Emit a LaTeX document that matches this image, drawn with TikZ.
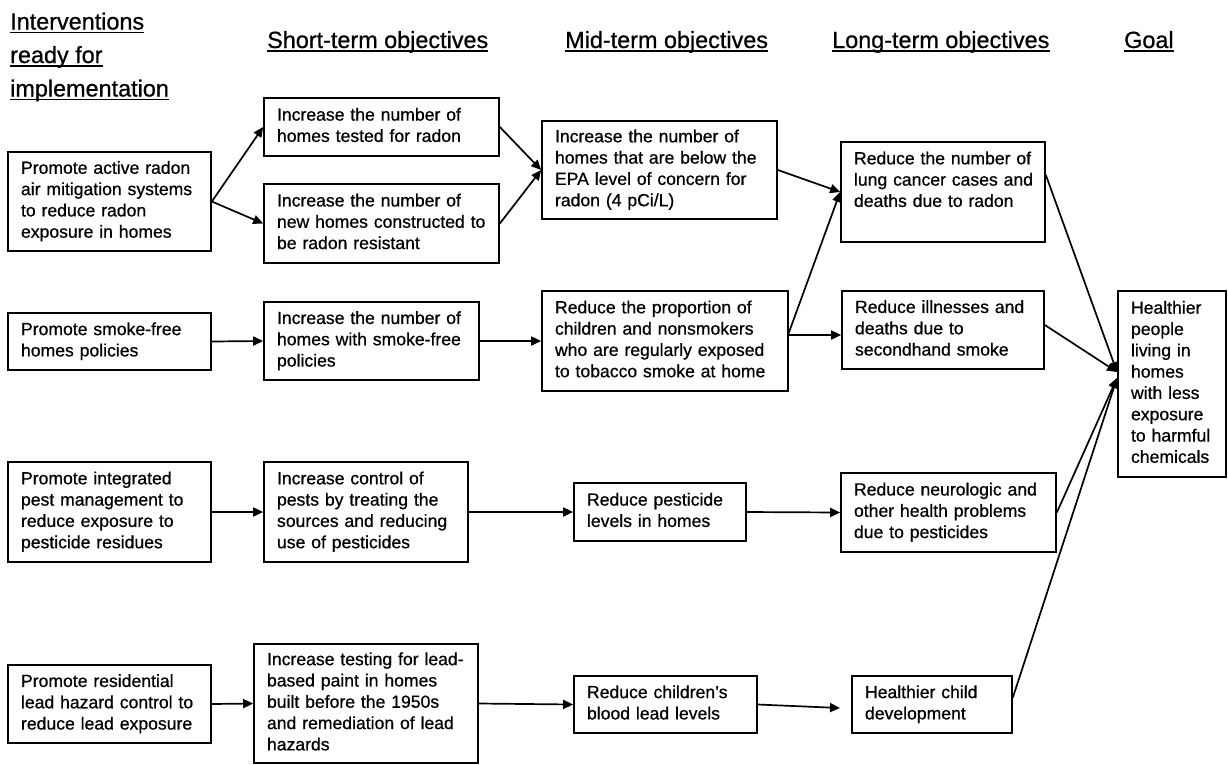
\documentclass[tikz,border=0pt]{standalone}
\usepackage{fontspec}
\setmainfont{Liberation Sans}[FakeBold=0.7]
\usetikzlibrary{arrows.meta,calc}
\newcommand{\mybxfont}{\fontsize{17.6pt}{21.3pt}\selectfont}
\newcommand{\myhdfont}{\fontsize{23.4pt}{33.5pt}\selectfont}
\newcommand{\bx}[1]{\begin{tabular}{@{}l@{}}#1\end{tabular}}
\begin{document}
\begin{tikzpicture}[x=1pt,y=-1pt,
  box/.style={draw, line width=1.7pt, inner xsep=13pt, inner ysep=0pt, align=left, font=\mybxfont},
  arr/.style={line width=1.7pt, -{Triangle[length=10pt,width=9pt]}},
  hd/.style={inner sep=0pt, anchor=base west, font=\myhdfont},
  uline/.style={line width=1.5pt}]
\useasboundingbox (0,0) rectangle (1228,764);

% headers
\node[hd] (h1a) at (10,29.5) {Interventions};
\node[hd] (h1b) at (10,63) {ready for\hspace{6.5pt}};
\node[hd] (h1c) at (10,96.5) {implementation};
\node[hd] (h2) at (267,48) {Short-term objectives\hspace{6.5pt}};
\node[hd] (h3) at (565,48) {Mid-term objectives\hspace{6.5pt}};
\node[hd] (h4) at (832,48) {Long-term objectives\hspace{6.5pt}};
\node[hd] (h5) at (1124,48) {Goal};
\foreach \h in {h1a,h1b,h1c,h2,h3,h4,h5}
  \draw[uline] ([yshift=-2.8pt]\h.base west) -- ([yshift=-2.8pt]\h.base east);

% column 1
\node[box, minimum width=203pt, minimum height=99pt, text width=177pt] (A1) at (109.5,201.5)
  {\bx{Promote active radon\\air mitigation systems\\to reduce radon\\exposure in homes}};
\node[box, minimum width=203pt, minimum height=57pt, text width=177pt] (A2) at (109.5,341.5)
  {\bx{Promote smoke-free\\homes policies}};
\node[box, minimum width=203pt, minimum height=100pt, text width=177pt] (A3) at (109.5,512)
  {\bx{Promote integrated\\pest management to\\reduce exposure to\\pesticide residues}};
\node[box, minimum width=203pt, minimum height=78pt, text width=177pt] (A4) at (109.5,704)
  {\bx{Promote residential\\lead hazard control to\\reduce lead exposure}};

% column 2
\node[box, minimum width=235pt, minimum height=58pt, text width=209pt] (S1a) at (381.5,127)
  {\bx{Increase the number of\\homes tested for radon}};
\node[box, minimum width=235pt, minimum height=79pt, text width=209pt] (S1b) at (381.5,223.5)
  {\bx{Increase the number of\\new homes constructed to\\be radon resistant}};
\node[box, minimum width=215pt, minimum height=78pt, text width=189pt] (S2) at (371.5,341)
  {\bx{Increase the number of\\homes with smoke-free\\policies}};
\node[box, minimum width=204pt, minimum height=100pt, text width=178pt] (S3) at (366,512)
  {\bx{Increase control of\\pests by treating the\\sources and reducing\\use of pesticides}};
\node[box, minimum width=224pt, minimum height=119pt, text width=198pt] (S4) at (366,703.5)
  {\bx{Increase testing for lead-\\based paint in homes\\built before the 1950s\\and remediation of lead\\hazards}};

% column 3
\node[box, minimum width=235pt, minimum height=98pt, text width=209pt] (M1) at (659.5,170)
  {\bx{Increase the number of\\homes that are below the\\EPA level of concern for\\radon (4 pCi/L)}};
\node[box, minimum width=246pt, minimum height=100pt, text width=220pt] (M2) at (665,341)
  {\bx{Reduce the proportion of\\children and nonsmokers\\who are regularly exposed\\to tobacco smoke at home}};
\node[box, minimum width=172pt, minimum height=58pt, text width=146pt] (M3) at (660,512)
  {\bx{Reduce pesticide\\levels in homes}};
\node[box, minimum width=183pt, minimum height=57pt, text width=157pt] (M4) at (665.5,704.5)
  {\bx{Reduce children’s\\blood lead levels}};

% column 4
\node[box, minimum width=204pt, minimum height=100pt, text width=178pt] (L1) at (943,192)
  {\bx{Reduce the number of\\lung cancer cases and\\deaths due to radon\\ \mbox{}}};
\node[box, minimum width=202pt, minimum height=78pt, text width=176pt] (L2) at (943,330)
  {\bx{Reduce illnesses and\\deaths due to\\secondhand smoke}};
\node[box, minimum width=215pt, minimum height=79pt, text width=189pt] (L3) at (948.5,512.5)
  {\bx{Reduce neurologic and\\other health problems\\due to pesticides}};
\node[box, minimum width=160pt, minimum height=57pt, text width=134pt] (L4) at (932,704.5)
  {\bx{Healthier child\\development}};

% goal
\node[box, minimum width=108pt, minimum height=186pt, text width=82pt] (G) at (1172,384)
  {\bx{Healthier\\people\\living in\\homes\\with less\\exposure\\to harmful\\chemicals}};

% connectors
\coordinate (m2o) at (788,335);
\coordinate (l4in) at (840,708);
\coordinate (g1) at (1117,372);
\coordinate (g2) at (1117,378);

\draw[arr] (A1.east) -- (S1a.west);
\draw[arr] (A1.east) -- (S1b.west);
\draw[arr] (S1a.east) -- (M1.west);
\draw[arr] (S1b.east) -- (M1.west);
\draw[arr] (M1.east) -- (L1.west);
\draw[arr] (m2o) -- (L1.west);
\draw[arr] (m2o) -- (m2o -| L2.west);
\draw[arr] (A2.east) -- (S2.west);
\draw[arr] (S2.east) -- (M2.west);
\draw[arr] (A3.east) -- (S3.west);
\draw[arr] (S3.east) -- (M3.west);
\draw[arr] (M3.east) -- (L3.west);
\draw[arr] (A4.east) -- (S4.west);
\draw[arr] (S4.east) -- (M4.west);
\draw[arr] (M4.east) -- (l4in);
\draw[arr] ($(L1.east)+(0,-17)$) -- (g1);
\draw[arr] ($(L2.east)+(0,-5)$) -- (g1);
\draw[arr] (L3.east) -- (g2);
\draw[arr] ($(L4.east)+(0,-7)$) -- (g2);
\end{tikzpicture}
\end{document}
